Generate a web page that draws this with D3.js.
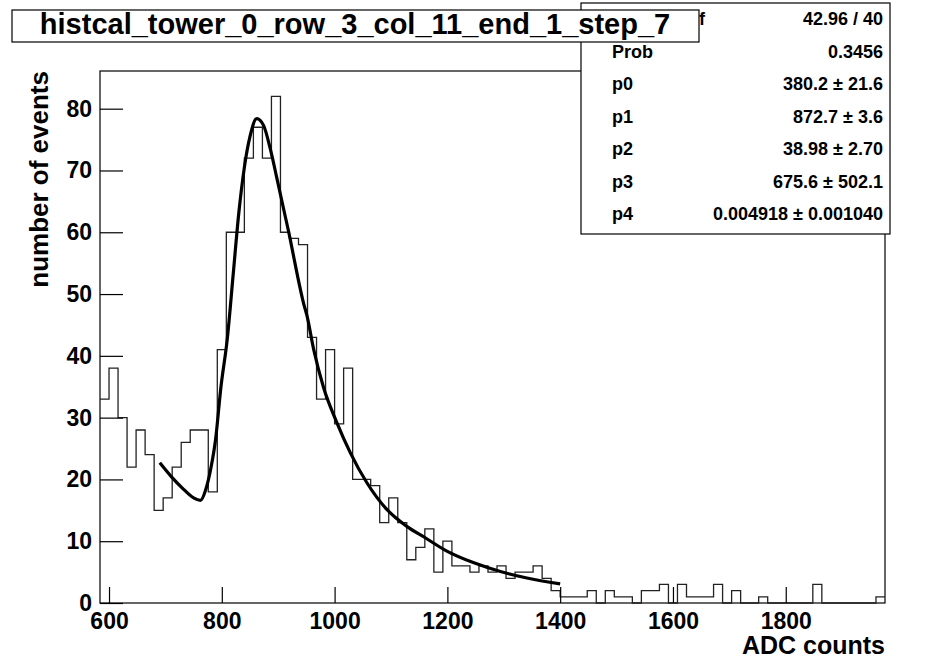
<!DOCTYPE html>
<html>
<head>
<meta charset="utf-8">
<script src="https://cdn.jsdelivr.net/npm/d3@7"></script>
<style>
body { margin: 0; background: #fff; }
svg text { font-family: "Liberation Sans", Arial, Helvetica, sans-serif; font-weight: bold; fill: #000; }
</style>
</head>
<body>
<svg id="chart" width="951" height="658"></svg>
<script>
var width = 951,
    height = 658;

var margin = {left: 100, right: 66, top: 71, bottom: 55};

// histogram bins (16 ADC counts wide)
var binLow = 584,
    binWidth = 16;
var counts = [
  33, 38, 30, 22, 28, 24, 15, 17, 22, 26, 28, 28, 18, 41,
  60, 60, 72, 77, 72, 82, 60, 59, 58,
  43, 33, 41, 29, 38, 20, 20, 19, 13, 17, 13, 7, 9, 12,
  5, 10, 6, 6, 5, 6, 5, 6, 4, 5, 5, 6, 4, 2,
  1, 1, 1, 2, 0, 2, 1, 1, 0, 2, 2, 3, 0, 3, 1, 1, 1, 3, 0, 2,
  0, 0, 1, 0, 0, 0, 0, 0, 3, 0, 0, 0, 0, 0, 0, 1
];
var yMax = 86.1;

// fit curve
var fitX = [690, 710, 730, 750, 762, 772, 781, 789, 798, 810, 820, 830, 840, 850, 862, 874, 886, 898,
            910, 921, 933, 945, 951, 963, 980, 1004, 1028, 1057, 1093, 1128, 1160, 1199, 1247, 1294, 1341, 1400];
var fitY = [22.7, 20.5, 18.6, 17.0, 16.6, 18.5, 22.0, 26.5, 34.6, 43.0, 53, 63, 70.5, 75.5, 78.4, 77.3, 73.5, 68.6,
            63.6, 59.0, 53.5, 48.5, 46.5, 41.0, 35.0, 29.2, 24.3, 19.5, 15.1, 12.4, 10.6, 8.4, 6.5, 5.1, 4.05, 3.1];

var xMajor = [600, 800, 1000, 1200, 1400, 1600, 1800];
var statNames = ["\u03c7\u00b2 / ndf", "Prob", "p0", "p1", "p2", "p3", "p4"];
var statValues = ["42.96 / 40", "0.3456", "380.2 \u00b1 21.6", "872.7 \u00b1 3.6",
                  "38.98 \u00b1 2.70", "675.6 \u00b1 502.1", "0.004918 \u00b1 0.001040"];
var titleText = "histcal_tower_0_row_3_col_11_end_1_step_7";

var svg = d3.select("#chart");

var x = d3.scaleLinear()
    .domain([binLow, binLow + binWidth * counts.length])
    .range([margin.left, width - margin.right]);
var y = d3.scaleLinear()
    .domain([0, yMax])
    .range([height - margin.bottom, margin.top]);

// frame
svg.append("rect")
    .attr("x", x.range()[0]).attr("y", y.range()[1])
    .attr("width", x.range()[1] - x.range()[0])
    .attr("height", y.range()[0] - y.range()[1])
    .attr("fill", "none").attr("stroke", "#000").attr("stroke-width", 1.2);

// histogram outline
var steps = counts.map(function(c, i) { return [binLow + i * binWidth, c]; });
steps.push([binLow + counts.length * binWidth, counts[counts.length - 1]]);
svg.append("path")
    .datum(steps)
    .attr("fill", "none")
    .attr("stroke", "#222")
    .attr("stroke-width", 1.3)
    .attr("d", d3.line()
        .x(function(d) { return x(d[0]); })
        .y(function(d) { return y(d[1]); })
        .curve(d3.curveStepAfter));

// fit
svg.append("path")
    .datum(fitX.map(function(v, i) { return [v, fitY[i]]; }))
    .attr("fill", "none")
    .attr("stroke", "#000")
    .attr("stroke-width", 3.2)
    .attr("stroke-linejoin", "round")
    .attr("d", d3.line()
        .x(function(d) { return x(d[0]); })
        .y(function(d) { return y(d[1]); })
        .curve(d3.curveMonotoneX));

// x axis
var gx = svg.append("g").attr("transform", "translate(0," + y(0) + ")");
gx.call(d3.axisBottom(x).tickValues(d3.range(600, x.domain()[1], 50)).tickSize(-8).tickFormat(""));
gx.call(d3.axisBottom(x).tickValues(xMajor).tickSizeInner(-16).tickSizeOuter(0)
    .tickPadding(10).tickFormat(d3.format("d")));
gx.selectAll(".domain").remove();
gx.selectAll("text").attr("font-size", 23).attr("font-family", null);
gx.selectAll("line").attr("stroke-width", 1.2);

// y axis
var gy = svg.append("g").attr("transform", "translate(" + x(binLow) + ",0)");
gy.call(d3.axisLeft(y).tickValues(d3.range(0, yMax, 2)).tickSize(-12).tickFormat(""));
gy.call(d3.axisLeft(y).tickValues(d3.range(0, yMax, 10)).tickSizeInner(-23).tickSizeOuter(0).tickPadding(8));
gy.selectAll(".domain").remove();
gy.selectAll("text").attr("font-size", 23).attr("font-family", null);
gy.selectAll("line").attr("stroke-width", 1.2);

// axis titles
svg.append("text")
    .attr("x", x.range()[1]).attr("y", 654)
    .attr("text-anchor", "end").attr("font-size", 25)
    .text("ADC counts");
svg.append("text")
    .attr("transform", "translate(48," + y.range()[1] + ") rotate(-90)")
    .attr("text-anchor", "end").attr("font-size", 26)
    .text("number of events");

// stats box (first label is mostly hidden under the title box)
svg.append("clipPath").attr("id", "statclip")
  .append("rect").attr("x", 699).attr("y", 0).attr("width", 200).attr("height", 240);
var stats = svg.append("g");
stats.append("rect")
    .attr("x", 581).attr("y", 3).attr("width", 309).attr("height", 231)
    .attr("fill", "#fff").attr("stroke", "#000").attr("stroke-width", 1.2);
statNames.forEach(function(name, i) {
  var ty = 19 + i * 32.5;
  stats.append("text")
      .attr("x", i === 0 ? 705 : 612).attr("y", ty).attr("dy", "0.36em")
      .attr("text-anchor", i === 0 ? "end" : "start")
      .attr("clip-path", i === 0 ? "url(#statclip)" : null)
      .attr("font-size", 18).text(name);
  stats.append("text")
      .attr("x", 883).attr("y", ty).attr("dy", "0.36em")
      .attr("text-anchor", "end")
      .attr("font-size", 18).text(statValues[i]);
});

// title box
svg.append("rect")
    .attr("x", 12).attr("y", 10).attr("width", 687).attr("height", 32)
    .attr("fill", "#fff").attr("stroke", "#000").attr("stroke-width", 1.2);
svg.append("text")
    .attr("x", 355).attr("y", 34)
    .attr("text-anchor", "middle").attr("font-size", 29)
    .text(titleText);
</script>
</body>
</html>
